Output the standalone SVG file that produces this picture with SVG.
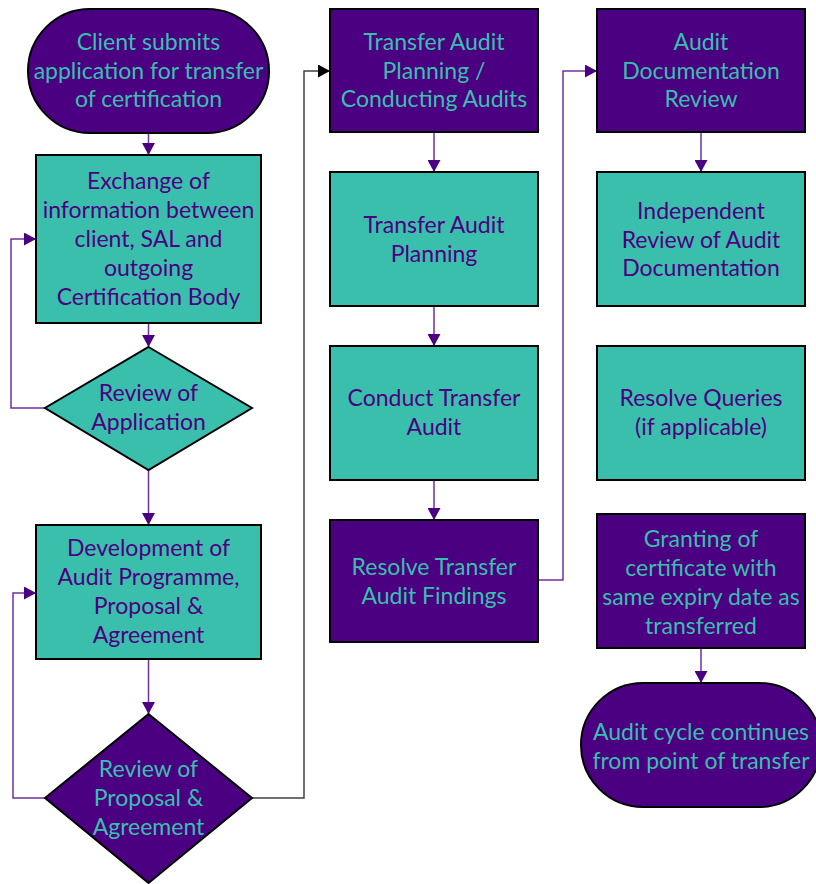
<svg xmlns="http://www.w3.org/2000/svg" width="816" height="884" viewBox="0 0 816 884">
<style>
.p{fill:#4B0082;stroke:#000;stroke-width:2}
.t{fill:#3BBFAD;stroke:#000;stroke-width:2}
.tx{font-family:"Lato","Liberation Sans",sans-serif;font-size:23px;text-anchor:middle}
.onp{fill:#3BBFAD}
.ont{fill:#4B0082}
.c{fill:none;stroke:#7030A0;stroke-width:1.5}
.g{fill:none;stroke:#404040;stroke-width:1.5}
</style>
<defs>
<marker id="ap" markerUnits="userSpaceOnUse" markerWidth="12" markerHeight="13" refX="12" refY="6.5" orient="auto">
<path d="M0,0 L12,6.5 L0,13 z" fill="#4B0082"/>
</marker>
<marker id="ak" markerUnits="userSpaceOnUse" markerWidth="12" markerHeight="13" refX="12" refY="6.5" orient="auto">
<path d="M0,0 L12,6.5 L0,13 z" fill="#000"/>
</marker>
</defs>
<rect width="816" height="884" fill="#fff"/>
<g id="connectors">
<path class="c" d="M148.5,133 V155" marker-end="url(#ap)"/>
<path class="c" d="M148.5,323 V347" marker-end="url(#ap)"/>
<path class="c" d="M45,408 H11 V239 H36" marker-end="url(#ap)"/>
<path class="c" d="M148.5,470 V525" marker-end="url(#ap)"/>
<path class="c" d="M148.5,659 V714" marker-end="url(#ap)"/>
<path class="c" d="M45,798 H13 V593 H36" marker-end="url(#ap)"/>
<path class="g" d="M252,798 H304 V71 H330" marker-end="url(#ak)"/>
<path class="c" d="M434,132 V172" marker-end="url(#ap)"/>
<path class="c" d="M434,306 V346" marker-end="url(#ap)"/>
<path class="c" d="M434,480 V520" marker-end="url(#ap)"/>
<path class="c" d="M538,580 H563 V71 H597" marker-end="url(#ap)"/>
<path class="c" d="M701,132 V172" marker-end="url(#ap)"/>
<path class="c" d="M701,648 V683" marker-end="url(#ap)"/>
</g>
<g id="start">
<rect class="p" x="28" y="9" width="241" height="124" rx="62" ry="62"/>
<text class="tx onp"><tspan x="148.5" y="50">Client submits</tspan><tspan x="148.5" y="79">application for transfer</tspan><tspan x="148.5" y="107">of certification</tspan></text>
</g>
<g id="exchange">
<rect class="t" x="36" y="155" width="225" height="168"/>
<text class="tx ont"><tspan x="148.5" y="189">Exchange of</tspan><tspan x="148.5" y="218">information between</tspan><tspan x="148.5" y="247">client, SAL and</tspan><tspan x="148.5" y="276">outgoing</tspan><tspan x="148.5" y="305">Certification Body</tspan></text>
</g>
<g id="review-application">
<polygon class="t" points="148.5,347 252,408 148.5,470 45,408"/>
<text class="tx ont"><tspan x="148.5" y="401">Review of</tspan><tspan x="148.5" y="430">Application</tspan></text>
</g>
<g id="development">
<rect class="t" x="36" y="525" width="225" height="134"/>
<text class="tx ont"><tspan x="148.5" y="556">Development of</tspan><tspan x="148.5" y="585">Audit Programme,</tspan><tspan x="148.5" y="614">Proposal &amp;</tspan><tspan x="148.5" y="643">Agreement</tspan></text>
</g>
<g id="review-proposal">
<polygon class="p" points="148.5,714 252,798 148.5,883 45,798"/>
<text class="tx onp"><tspan x="148.5" y="777">Review of</tspan><tspan x="148.5" y="806">Proposal &amp;</tspan><tspan x="148.5" y="835">Agreement</tspan></text>
</g>
<g id="transfer-audit-planning-conducting">
<rect class="p" x="330" y="9" width="208" height="123"/>
<text class="tx onp"><tspan x="434" y="50">Transfer Audit</tspan><tspan x="434" y="79">Planning /</tspan><tspan x="434" y="107">Conducting Audits</tspan></text>
</g>
<g id="transfer-audit-planning">
<rect class="t" x="330" y="172" width="208" height="134"/>
<text class="tx ont"><tspan x="434" y="233">Transfer Audit</tspan><tspan x="434" y="262">Planning</tspan></text>
</g>
<g id="conduct-transfer-audit">
<rect class="t" x="330" y="346" width="208" height="134"/>
<text class="tx ont"><tspan x="434" y="406">Conduct Transfer</tspan><tspan x="434" y="435">Audit</tspan></text>
</g>
<g id="resolve-findings">
<rect class="p" x="330" y="520" width="208" height="122"/>
<text class="tx onp"><tspan x="434" y="575">Resolve Transfer</tspan><tspan x="434" y="604">Audit Findings</tspan></text>
</g>
<g id="audit-documentation-review">
<rect class="p" x="597" y="9" width="208" height="123"/>
<text class="tx onp"><tspan x="701" y="50">Audit</tspan><tspan x="701" y="79">Documentation</tspan><tspan x="701" y="107">Review</tspan></text>
</g>
<g id="independent-review">
<rect class="t" x="597" y="172" width="208" height="134"/>
<text class="tx ont"><tspan x="701" y="219">Independent</tspan><tspan x="701" y="248">Review of Audit</tspan><tspan x="701" y="276">Documentation</tspan></text>
</g>
<g id="resolve-queries">
<rect class="t" x="597" y="346" width="208" height="134"/>
<text class="tx ont"><tspan x="701" y="406">Resolve Queries</tspan><tspan x="701" y="435">(if applicable)</tspan></text>
</g>
<g id="granting">
<rect class="p" x="597" y="514" width="208" height="134"/>
<text class="tx onp"><tspan x="701" y="547">Granting of</tspan><tspan x="701" y="576">certificate with</tspan><tspan x="701" y="605">same expiry date as</tspan><tspan x="701" y="634">transferred</tspan></text>
</g>
<g id="end">
<rect class="p" x="581" y="683" width="240" height="124" rx="62" ry="62"/>
<text class="tx onp"><tspan x="701" y="740">Audit cycle continues</tspan><tspan x="701" y="769">from point of transfer</tspan></text>
</g>
</svg>
